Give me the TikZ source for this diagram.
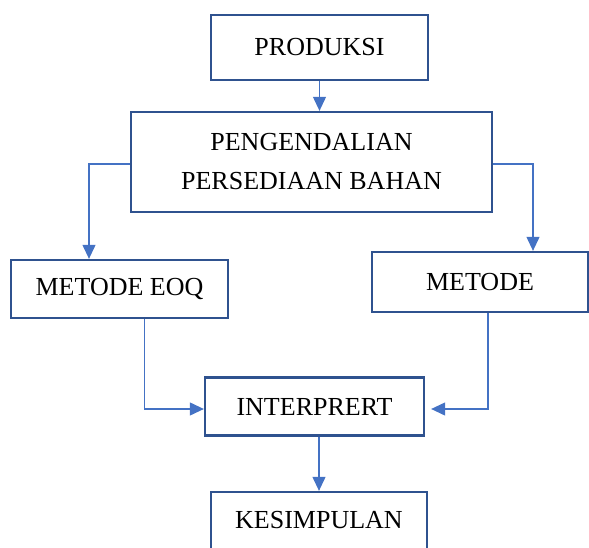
\documentclass[tikz,border=0pt]{standalone}
\usepackage{fontspec}
\setmainfont{Liberation Serif}
\usetikzlibrary{arrows.meta}
\definecolor{boxblue}{HTML}{2F528F}
\definecolor{lineblue}{HTML}{4472C4}
\tikzset{
  box/.style={draw=boxblue, line width=2.3pt, fill=white, inner sep=0pt, align=center,
    font=\fontsize{26}{39}\selectfont},
  conn/.style={draw=lineblue, line width=1.1pt, -{Triangle[length=14pt,width=13pt]}},
}
\begin{document}
\begin{tikzpicture}[x=1pt,y=-1pt]
\useasboundingbox (0,0) rectangle (589,548);
\clip (0,0) rectangle (589,548);
\node[box, minimum width=217pt, minimum height=65pt] (prod) at (319.5,47.5) {PRODUKSI};
\node[box, minimum width=361pt, minimum height=100pt] (peng) at (311.5,162) {PENGENDALIAN\\PERSEDIAAN BAHAN};
\node[box, minimum width=217pt, minimum height=58pt] (eoq) at (119.5,289) {METODE EOQ};
\node[box, minimum width=216pt, minimum height=60pt] (met) at (480,282) {METODE};
\node[box, minimum width=219pt, minimum height=58pt] (interp) at (314.5,406.5) {INTERPRERT};
\node[box, minimum width=216pt, text height=36pt, text depth=40pt, anchor=base] (kes) at (319,528) {KESIMPULAN};

\draw[conn] (prod.south) -- (prod.south |- peng.north);
\draw[conn] ([yshift=-2pt]peng.west) -| ([xshift=-30.5pt]eoq.north);
\draw[conn] ([yshift=-2pt]peng.east) -| ([xshift=53pt]met.north);
\draw[conn] ([xshift=25pt]eoq.south) |- ([yshift=-2.5pt]interp.west);
\draw[conn] ([xshift=8pt]met.south) |- ([xshift=6pt,yshift=-2.5pt]interp.east);
\draw[conn] ([xshift=4.5pt]interp.south) -- ([xshift=4.5pt]interp.south |- kes.north);
\end{tikzpicture}
\end{document}
